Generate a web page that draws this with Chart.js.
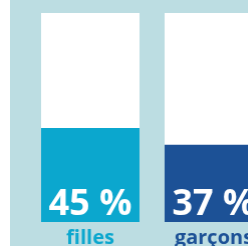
<!DOCTYPE html>
<html>
<head>
<meta charset="utf-8">
<script src="https://cdn.jsdelivr.net/npm/chart.js@4"></script>
<style>
  html, body { margin: 0; padding: 0; background: #fff; overflow: hidden; }
  #wrap { position: absolute; left: 10px; top: 0; width: 238px; height: 246px; background: #bcdde2; overflow: hidden; }
  #box { position: absolute; left: 0; top: 0; width: 264.5px; height: 246px; }
</style>
</head>
<body>
<div id="wrap"><div id="box"><canvas id="myChart"></canvas></div></div>
<script>
const categories = ['filles', 'garçons'];
const values = [45, 37];
const totals = [100, 100];
const valueLabels = ['45 %', '37 %'];
const colors = ['#0ba7ce', '#1c5196'];

// value labels inside the bars + category names underneath
const labelPlugin = {
  id: 'labels',
  afterDatasetsDraw(chart) {
    const ctx = chart.ctx;
    const x = chart.scales.x;
    const y = chart.scales.y;
    ctx.save();
    ctx.textAlign = 'center';
    ctx.textBaseline = 'alphabetic';
    categories.forEach((cat, i) => {
      const cx = x.getPixelForValue(i);
      ctx.fillStyle = '#ffffff';
      ctx.font = 'bold 36px "Open Sans"';
      ctx.fillText(valueLabels[i], cx, y.getPixelForValue(0) - 7);
      ctx.fillStyle = colors[i];
      ctx.font = 'bold 20px "Open Sans"';
      ctx.fillText(cat, cx, y.getPixelForValue(0) + 22);
    });
    ctx.restore();
  }
};

const ctx = document.getElementById('myChart').getContext('2d');
const chart = new Chart(ctx, {
  type: 'bar',
  data: {
    labels: categories,
    datasets: [
      {
        label: 'valeur',
        data: values,
        backgroundColor: colors,
        barPercentage: 1,
        categoryPercentage: 0.797,
        grouped: false,
      },
      {
        label: 'total',
        data: totals,
        backgroundColor: '#ffffff',
        barPercentage: 1,
        categoryPercentage: 0.797,
        grouped: false,
      },
    ],
  },
  options: {
    responsive: true,
    maintainAspectRatio: false,
    animation: false,
    layout: { padding: { left: 18.5, right: 0, top: 13, bottom: 24 } },
    plugins: { legend: { display: false }, tooltip: { enabled: false } },
    scales: {
      x: { display: false },
      y: { display: false, min: 0, max: 100 },
    },
  },
  plugins: [labelPlugin],
});
</script>
</body>
</html>
